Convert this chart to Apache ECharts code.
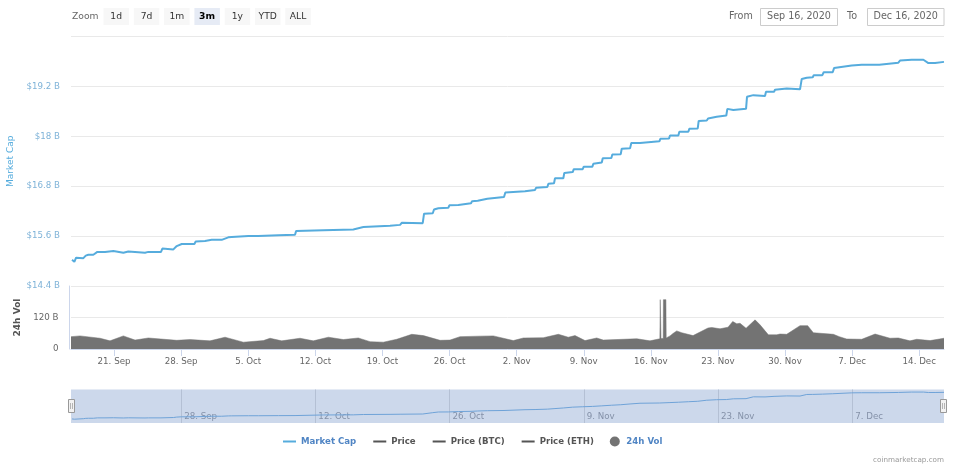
<!DOCTYPE html>
<html lang="en">

<head>
  <meta charset="UTF-8">
  <title>Market Cap</title>
  <script src="https://cdn.jsdelivr.net/npm/echarts@6/dist/echarts.min.js"></script>
  <style>
    * {
      margin: 0;
      padding: 0;
    }

    body {
      background: #fff;
    }

    #chart {
      width: 958px;
      height: 470px;
    }
  </style>
</head>

<body>
  <div id="chart"></div>
</body>

<script>
  // all x values are days counted from 16 Sep 2020
  const capDays = [0.62, 0.86, 1.04, 1.80, 2.05, 2.32, 2.84, 3.26, 4.06, 4.93, 5.97, 6.49, 8.23, 8.58, 9.90, 10.04, 11.19, 11.54, 12.06, 13.38,
    13.52, 14.49, 15.19, 16.23, 16.92, 17.28, 19.01, 19.19, 20.05, 22.14, 23.88, 23.99, 26.83, 27.01, 29.96, 31.01, 33.79, 34.84, 35.01, 37.20,
    37.34, 38.25, 38.38, 38.83, 39.87, 39.98, 40.92, 41.02, 42.24, 42.35, 42.94, 43.05, 43.94, 44.05, 45.68, 45.82, 47.87, 48.92, 49.02, 50.20,
    50.31, 50.90, 51.00, 51.87, 51.97, 52.85, 52.96, 53.89, 54.00, 54.90, 55.00, 55.88, 55.98, 56.88, 56.98, 57.86, 57.96, 58.83, 58.96, 59.87,
    60.05, 61.89, 61.99, 62.90, 63.00, 63.87, 63.97, 64.91, 65.01, 65.89, 65.99, 66.83, 66.97, 67.87, 68.04, 68.87, 68.98, 69.60, 70.93, 71.03,
    71.69, 72.91, 73.01, 73.85, 73.95, 75.17, 76.56, 76.74, 77.26, 77.89, 77.99, 78.89, 79.03, 79.97, 80.11, 81.95, 83.00, 84.83, 84.98, 86.82,
    86.99, 88.21, 89.43, 89.95, 90.65, 91.58];
  const capValues = [15.03, 14.98, 15.08, 15.07, 15.13, 15.15, 15.15, 15.22, 15.22, 15.24, 15.20, 15.23, 15.20, 15.22, 15.22, 15.30, 15.28, 15.36, 15.41, 15.41,
    15.47, 15.48, 15.51, 15.51, 15.57, 15.58, 15.60, 15.63, 15.60, 15.62, 15.63, 15.72, 15.74, 15.75, 15.76, 15.82, 15.85, 15.87, 15.92, 15.91,
    16.14, 16.15, 16.24, 16.27, 16.28, 16.34, 16.35, 16.38, 16.39, 16.44, 16.45, 16.49, 16.50, 16.54, 16.54, 16.65, 16.68, 16.71, 16.76, 16.78,
    16.86, 16.87, 16.99, 16.99, 17.12, 17.14, 17.21, 17.21, 17.27, 17.27, 17.34, 17.37, 17.47, 17.48, 17.56, 17.57, 17.70, 17.71, 17.84, 17.84,
    17.87, 17.88, 17.94, 17.95, 18.02, 18.02, 18.11, 18.11, 18.18, 18.19, 18.37, 18.38, 18.43, 18.47, 18.49, 18.50, 18.66, 18.63, 18.66, 18.95,
    18.99, 18.97, 19.07, 19.07, 19.12, 19.15, 19.13, 19.38, 19.41, 19.42, 19.47, 19.47, 19.54, 19.54, 19.64, 19.70, 19.72, 19.72, 19.76, 19.77,
    19.82, 19.84, 19.84, 19.76, 19.76, 19.79];

  const volDays = [0.51, 1.45, 3.54, 4.58, 5.97, 7.19, 8.58, 11.54, 12.93, 15.01, 16.58, 18.49, 20.58, 21.27, 22.49, 24.40, 25.79, 27.36, 28.92, 30.48,
    31.71, 33.09, 34.49, 36.06, 37.27, 39.01, 40.05, 41.09, 43.18, 44.57, 46.65, 47.70, 49.78, 51.35, 52.39, 53.09, 54.13, 55.35, 56.04, 59.53,
    60.91, 61.94, 61.98, 62.02, 62.06, 62.29, 62.31, 62.57, 62.60, 63.00, 63.34, 63.70, 64.22, 65.40, 66.96, 67.35, 68.22, 69.05, 69.54, 69.96,
    70.30, 70.93, 71.87, 72.39, 73.26, 74.13, 74.47, 75.17, 76.56, 77.36, 77.95, 80.04, 80.66, 81.43, 83.00, 84.39, 85.95, 86.82, 88.03, 88.74,
    90.13, 91.58];
  const volValues = [47, 50, 41, 31, 50, 34, 42, 33, 36, 31, 45, 26, 32, 41, 31, 41, 31, 45, 36, 42,
    28, 26, 37, 56, 51, 33, 34, 47, 49, 50, 32, 42, 43, 56, 45, 51, 32, 42, 34, 39,
    31, 39, 188, 188, 40, 40, 188, 188, 42, 50, 60, 69, 62, 51, 80, 82, 77, 83, 105, 96,
    98, 79, 111, 92, 54, 54, 57, 56, 89, 89, 62, 56, 47, 38, 37, 57, 41, 42, 31, 37,
    32, 41];

  const tickDays = [5, 12, 19, 26, 33, 40, 47, 54, 61, 68, 75, 82, 89];
  const tickLabels = ['21. Sep', '28. Sep', '5. Oct', '12. Oct', '19. Oct', '26. Oct', '2. Nov', '9. Nov', '16. Nov', '23. Nov', '30. Nov', '7. Dec', '14. Dec'];
  const navTickDays = [12, 26, 40, 54, 68, 82];
  const rangeButtons = ['1d', '7d', '1m', '3m', '1y', 'YTD', 'ALL'];
  const legendNames = ['Market Cap', 'Price', 'Price (BTC)', 'Price (ETH)', '24h Vol'];

  const fontName = '"DejaVu Sans"';
  const blue = '#56acdd';
  const gray = '#737373';
  const dayMin = 0.51;
  const dayMax = 91.58;

  var myChart = echarts.init(document.getElementById('chart'));

  function label(day) {
    return tickLabels[tickDays.indexOf(day)] || '';
  }

  function pairs(xs, ys) {
    return xs.map((x, i) => [x, ys[i]]);
  }

  function text(str, x, y, color, size, align, weight) {
    return {
      type: 'text',
      x: x,
      y: y,
      style: {
        text: str,
        fill: color,
        font: (weight || 'normal') + ' ' + size + 'px ' + fontName,
        textAlign: align || 'left',
        textVerticalAlign: 'middle'
      }
    };
  }

  function box(x, y, w, h, fill, stroke) {
    return {
      type: 'rect',
      shape: { x: x, y: y, width: w, height: h },
      style: { fill: fill, stroke: stroke || null, lineWidth: 1 }
    };
  }

  // 范围按钮和日期框
  let toolbar = [text('Zoom', 72, 17, '#666', 9.2)];
  rangeButtons.forEach((name, i) => {
    let x = 103.5 + i * 30.3;
    let active = name === '3m';
    toolbar.push(box(x, 8, 25.5, 17, active ? '#e6ebf5' : '#f7f7f7'));
    toolbar.push(text(name, x + 12.7, 16.5, active ? '#000' : '#333', 9.2, 'center', active ? 'bold' : 'normal'));
  });
  toolbar.push(text('From', 729, 16.5, '#666', 9.6));
  toolbar.push(box(760.5, 8.5, 77, 17, '#fff', '#ccc'));
  toolbar.push(text('Sep 16, 2020', 799, 16.5, '#666', 9.6, 'center'));
  toolbar.push(text('To', 847, 16.5, '#666', 9.6));
  toolbar.push(box(867.5, 8.5, 76.5, 17, '#fff', '#ccc'));
  toolbar.push(text('Dec 16, 2020', 905.7, 16.5, '#666', 9.6, 'center'));
  toolbar.push(text('coinmarketcap.com', 944, 460, '#999', 7.2, 'right'));

  // 导航条两端的把手
  [68, 940].forEach(x => {
    toolbar.push(box(x + 0.5, 399.5, 6, 13, '#f2f2f2', '#999'));
    toolbar.push(box(x + 2.5, 403, 0.5, 6, '#777'));
    toolbar.push(box(x + 4, 403, 0.5, 6, '#777'));
  });

  const hiddenX = {
    type: 'value',
    min: dayMin,
    max: dayMax,
    axisLine: { show: false },
    axisTick: { show: false },
    axisLabel: { show: false },
    splitLine: { show: false }
  };

  // 图例里的线不要中间的圆点
  const noDot = { color: 'transparent', borderWidth: 0 };

  const option = {
    animation: false,
    textStyle: { fontFamily: fontName },
    graphic: toolbar.map(g => Object.assign(g, { z: 100 })),
    legend: {
      left: 282,
      top: 436.5,
      padding: 0,
      itemWidth: 13,
      itemHeight: 10,
      itemGap: 16,
      textStyle: { fontFamily: fontName, fontSize: 8.6, fontWeight: 'bold', color: '#555' },
      data: [
        { name: legendNames[0], itemStyle: noDot, textStyle: { color: '#5085c4' } },
        { name: legendNames[1], itemStyle: noDot },
        { name: legendNames[2], itemStyle: noDot },
        { name: legendNames[3], itemStyle: noDot },
        { name: legendNames[4], icon: 'circle', textStyle: { color: '#5085c4' } }
      ]
    },
    grid: [
      { left: 71, right: 14, top: 36.5, height: 249.5, outerBoundsMode: 'none' },
      { left: 71, right: 14, top: 286, height: 63, outerBoundsMode: 'none' },
      { left: 71, right: 14, top: 389.5, height: 33.5, outerBoundsMode: 'none', show: true, backgroundColor: '#ccd8eb', borderWidth: 0 }
    ],
    xAxis: [
      Object.assign({}, hiddenX, { gridIndex: 0 }),
      Object.assign({}, hiddenX, {
        gridIndex: 1,
        axisLine: { show: true, onZero: false, lineStyle: { color: '#ccd6eb' } },
        axisTick: { show: true, length: 7, customValues: tickDays, lineStyle: { color: '#ccd6eb' } },
        axisLabel: {
          show: true,
          customValues: tickDays,
          formatter: v => label(v),
          color: '#666',
          fontSize: 8.7,
          margin: 8
        }
      }),
      Object.assign({}, hiddenX, {
        gridIndex: 2,
        axisTick: { show: false, customValues: navTickDays },
        axisLabel: {
          show: true,
          inside: true,
          customValues: navTickDays,
          formatter: v => label(v),
          color: '#8491a8',
          fontSize: 8.7,
          align: 'left',
          padding: [0, 0, 0, 3],
          margin: 2
        },
        splitLine: { show: true, lineStyle: { color: '#b4c0d4' } }
      })
    ],
    yAxis: [
      {
        type: 'value',
        gridIndex: 0,
        min: 14.4,
        max: 20.4,
        interval: 1.2,
        name: 'Market Cap',
        nameLocation: 'middle',
        nameGap: 55,
        nameTextStyle: { color: blue, fontSize: 9 },
        axisLine: { show: false },
        axisTick: { show: false },
        axisLabel: {
          color: '#7fb3d8',
          fontSize: 8.7,
          margin: 11,
          showMaxLabel: false,
          formatter: v => '$' + parseFloat(v.toFixed(1)) + ' B'
        },
        splitLine: { lineStyle: { color: '#e9e9e9' } }
      },
      {
        type: 'value',
        gridIndex: 1,
        min: 0,
        max: 240,
        interval: 120,
        offset: 1.5,
        name: '24h Vol',
        nameLocation: 'middle',
        nameGap: 46,
        nameTextStyle: { color: '#555', fontSize: 9, fontWeight: 'bold' },
        axisLine: { show: true, lineStyle: { color: '#ccd6eb' } },
        axisTick: { show: false },
        axisLabel: {
          color: '#666',
          fontSize: 8.7,
          margin: 11,
          showMaxLabel: false,
          formatter: v => (v ? v + ' B' : '0')
        },
        splitLine: { lineStyle: { color: '#e9e9e9' } }
      },
      {
        type: 'value',
        gridIndex: 2,
        min: 14.3,
        max: 20.3,
        axisLine: { show: false },
        axisTick: { show: false },
        axisLabel: { show: false },
        splitLine: { show: false }
      }
    ],
    series: [
      {
        name: legendNames[0],
        type: 'line',
        symbol: 'none',
        xAxisIndex: 0,
        yAxisIndex: 0,
        data: pairs(capDays, capValues),
        lineStyle: { color: blue, width: 2 },
        itemStyle: { color: blue }
      },
      // 这三个没有数据，只占图例
      { name: legendNames[1], type: 'line', symbol: 'none', data: [], itemStyle: { color: '#555' }, lineStyle: { color: '#555', width: 2 } },
      { name: legendNames[2], type: 'line', symbol: 'none', data: [], itemStyle: { color: '#555' }, lineStyle: { color: '#555', width: 2 } },
      { name: legendNames[3], type: 'line', symbol: 'none', data: [], itemStyle: { color: '#555' }, lineStyle: { color: '#555', width: 2 } },
      {
        name: legendNames[4],
        type: 'line',
        symbol: 'none',
        xAxisIndex: 1,
        yAxisIndex: 1,
        data: pairs(volDays, volValues),
        lineStyle: { color: gray, width: 0.5 },
        itemStyle: { color: gray },
        areaStyle: { color: gray, opacity: 1 }
      },
      {
        name: 'Navigator',
        type: 'line',
        symbol: 'none',
        xAxisIndex: 2,
        yAxisIndex: 2,
        data: pairs(capDays, capValues),
        lineStyle: { color: '#6fa3d8', width: 1 },
        itemStyle: { color: '#6fa3d8' }
      }
    ]
  };

  myChart.setOption(option);
</script>

</html>
